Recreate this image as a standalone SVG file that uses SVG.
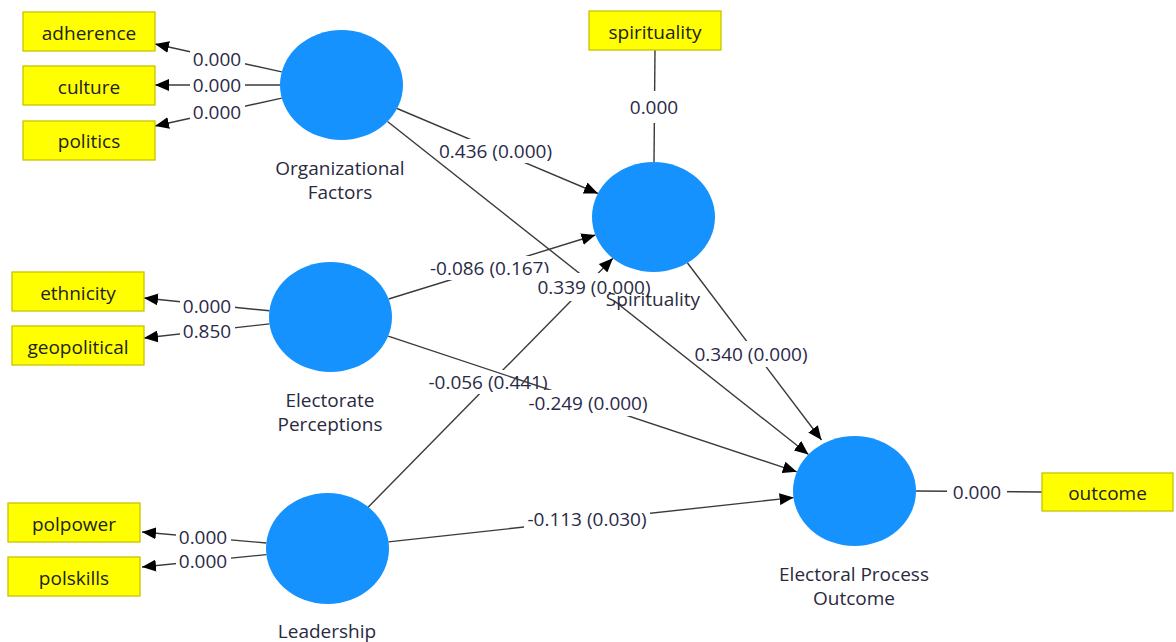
<svg xmlns="http://www.w3.org/2000/svg" width="1176" height="642" viewBox="0 0 1176 642">
<style>
.bg{fill:#ffffff}
.box rect{fill:#ffff00;stroke:#c8c400;stroke-width:1.3}
.box text{font-family:"Open Sans","Noto Sans",sans-serif;font-size:19px;fill:#222222;text-anchor:middle}
.lv ellipse{fill:#1592fe}
.lv text{font-family:"Open Sans","Noto Sans",sans-serif;font-size:19px;fill:#2a2a3e;text-anchor:middle}
.ln{stroke:#3a3a3a;stroke-width:1.4;fill:none}
.arr{marker-end:url(#ah)}
.lb{fill:#ffffff}
.lt{font-family:"Open Sans","Noto Sans",sans-serif;font-size:19px;fill:#2a2a48;text-anchor:middle}
</style>
<defs>
<marker id="ah" markerUnits="userSpaceOnUse" markerWidth="15" markerHeight="12" refX="14" refY="6" orient="auto" viewBox="0 0 15 12">
<path d="M0,0 L14,6 L0,12 z" fill="#000000"/>
</marker>
</defs>
<rect class="bg" x="0" y="0" width="1176" height="642"/>

<g id="connectors">
  <g id="c-adherence"><line class="ln arr" x1="281.8" y1="71.9" x2="155" y2="44"/><rect class="lb" x="190" y="47" width="55" height="24"/><text class="lt" x="217" y="66">0.000</text></g>
  <g id="c-culture"><line class="ln arr" x1="280" y1="85" x2="155" y2="85"/><rect class="lb" x="190" y="73" width="55" height="24"/><text class="lt" x="217" y="92">0.000</text></g>
  <g id="c-politics"><line class="ln arr" x1="281.8" y1="98.1" x2="155" y2="126"/><rect class="lb" x="190" y="100" width="55" height="24"/><text class="lt" x="217" y="119">0.000</text></g>
  <g id="c-ethnicity"><line class="ln arr" x1="269.5" y1="310.8" x2="144" y2="298"/><rect class="lb" x="180" y="294" width="55" height="24"/><text class="lt" x="207" y="313">0.000</text></g>
  <g id="c-geopolitical"><line class="ln arr" x1="269.5" y1="323.9" x2="144" y2="338"/><rect class="lb" x="180" y="319" width="55" height="24"/><text class="lt" x="207" y="338">0.850</text></g>
  <g id="c-polpower"><line class="ln arr" x1="266.3" y1="543" x2="142" y2="532"/><rect class="lb" x="176" y="525" width="55" height="24"/><text class="lt" x="203" y="544">0.000</text></g>
  <g id="c-polskills"><line class="ln arr" x1="266.4" y1="554.6" x2="142" y2="567"/><rect class="lb" x="176" y="549" width="55" height="24"/><text class="lt" x="203" y="568">0.000</text></g>
  <g id="c-spirituality"><line class="ln" x1="655" y1="50" x2="654" y2="162"/><rect class="lb" x="627" y="91" width="55" height="32"/><text class="lt" x="654" y="114">0.000</text></g>
  <g id="c-outcome"><line class="ln" x1="916" y1="491" x2="1042" y2="492"/><rect class="lb" x="947" y="480" width="60" height="24"/><text class="lt" x="977" y="499">0.000</text></g>

  <g id="p-L-S"><line class="ln arr" x1="368.1" y1="507.2" x2="612.9" y2="258.2"/><rect class="lb" x="425" y="370" width="126" height="24"/><text class="lt" x="488" y="389">-0.056 (0.441)</text></g>
  <g id="p-EP-S"><line class="ln arr" x1="388.6" y1="299" x2="595.4" y2="235"/><rect class="lb" x="427" y="256" width="126" height="24"/><text class="lt" x="489.5" y="275">-0.086 (0.167)</text></g>
  <g id="p-OF-S"><line class="ln arr" x1="397.1" y1="108.5" x2="598" y2="193.5"/><rect class="lb" x="436" y="139" width="119" height="24"/><text class="lt" x="495.5" y="158">0.436 (0.000)</text></g>
  <g id="p-S-EPO"><line class="ln arr" x1="687.5" y1="263" x2="821.5" y2="440"/><rect class="lb" x="691" y="341" width="120" height="26"/><text class="lt" x="751" y="361">0.340 (0.000)</text></g>
  <g id="p-OF-EPO"><line class="ln arr" x1="387.5" y1="121.5" x2="808.5" y2="454.5"/><rect class="lb" x="534" y="273" width="120" height="28"/><text class="lt" x="594" y="294">0.339 (0.000)</text></g>
  <g id="p-EP-EPO"><line class="ln arr" x1="388.2" y1="336.2" x2="796.8" y2="471.8"/><rect class="lb" x="525" y="390" width="126" height="26"/><text class="lt" x="588" y="410">-0.249 (0.000)</text></g>
  <g id="p-L-EPO"><line class="ln arr" x1="388.4" y1="541.9" x2="793.6" y2="497.6"/><rect class="lb" x="524" y="507" width="126" height="24"/><text class="lt" x="587" y="526">-0.113 (0.030)</text></g>
</g>

<g id="adherence" class="box"><rect x="23" y="12" width="132" height="39"/><text x="89" y="39.5">adherence</text></g>
<g id="culture" class="box"><rect x="23" y="66" width="132" height="39"/><text x="89" y="93.5">culture</text></g>
<g id="politics" class="box"><rect x="23" y="121" width="132" height="39"/><text x="89" y="148">politics</text></g>
<g id="ethnicity" class="box"><rect x="12" y="272" width="132" height="39"/><text x="78" y="299.5">ethnicity</text></g>
<g id="geopolitical" class="box"><rect x="12" y="326" width="132" height="39"/><text x="78" y="353.5">geopolitical</text></g>
<g id="polpower" class="box"><rect x="8" y="503" width="132" height="39"/><text x="74" y="530.5">polpower</text></g>
<g id="polskills" class="box"><rect x="8" y="557" width="132" height="39"/><text x="74" y="584.5">polskills</text></g>
<g id="spirituality" class="box"><rect x="589" y="11" width="132" height="39"/><text x="655" y="38.5">spirituality</text></g>
<g id="outcome" class="box"><rect x="1042" y="473" width="131" height="38"/><text x="1107.5" y="500">outcome</text></g>

<g id="organizational-factors" class="lv"><ellipse cx="341.5" cy="85" rx="61.5" ry="55"/><text x="340" y="175">Organizational</text><text x="340" y="199">Factors</text></g>
<g id="electorate-perceptions" class="lv"><ellipse cx="330.5" cy="317" rx="61.5" ry="55"/><text x="330" y="407">Electorate</text><text x="330" y="431">Perceptions</text></g>
<g id="leadership" class="lv"><ellipse cx="327.5" cy="548.5" rx="61.5" ry="55.5"/><text x="327" y="638">Leadership</text></g>
<g id="spirituality-lv" class="lv"><ellipse cx="653.5" cy="217" rx="61.5" ry="55"/><text x="653" y="306">Spirituality</text></g>
<g id="electoral-process-outcome" class="lv"><ellipse cx="854.5" cy="491" rx="61.5" ry="55"/><text x="854" y="581">Electoral Process</text><text x="854" y="605">Outcome</text></g>
</svg>
